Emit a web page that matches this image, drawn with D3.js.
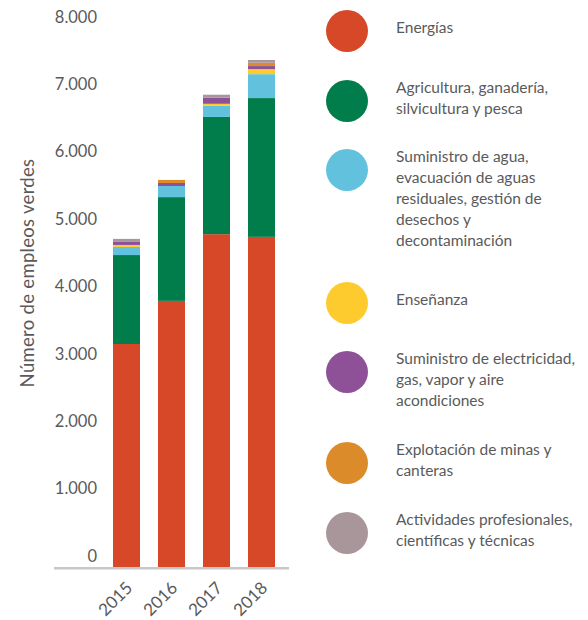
<!DOCTYPE html>
<html>
<head>
<meta charset="utf-8">
<script src="https://cdn.jsdelivr.net/npm/d3@7"></script>
<style>
  body { margin: 0; background: #fff; }
  text { font-family: Lato, "Noto Sans", sans-serif; fill: #5a5a5a; }
</style>
</head>
<body>
<svg id="chart" width="588" height="620"></svg>
<script>
// Data
const years = ['2015', '2016', '2017', '2018'];
const sectors = ['energias', 'agricultura', 'agua', 'ensenanza', 'electricidad', 'minas', 'actividades'];
const energias     = [3310, 3950, 4940, 4900];
const agricultura  = [1320, 1540, 1740, 2060];
const agua         = [120, 165, 165, 355];
const ensenanza    = [30, 0, 30, 75];
const electricidad = [45, 45, 90, 45];
const minas        = [0, 45, 0, 50];
const actividades  = [45, 0, 45, 40];
const yTicks = [0, 1000, 2000, 3000, 4000, 5000, 6000, 7000, 8000];

const legendLabels = [
    ['Energías'],
    ['Agricultura, ganadería,', 'silvicultura y pesca'],
    ['Suministro de agua,', 'evacuación de aguas', 'residuales, gestión de', 'desechos y', 'decontaminación'],
    ['Enseñanza'],
    ['Suministro de electricidad,', 'gas, vapor y aire', 'acondiciones'],
    ['Explotación de minas y', 'canteras'],
    ['Actividades profesionales,', 'científicas y técnicas']
];

const colors = {
    energias: '#d64827',
    agricultura: '#007d4b',
    agua: '#62c2de',
    ensenanza: '#fecb2f',
    electricidad: '#8e5198',
    minas: '#dc8b2a',
    actividades: '#a8969a'
};

const series = { energias, agricultura, agua, ensenanza, electricidad, minas, actividades };
const rows = years.map((y, i) => {
    const r = { year: y };
    sectors.forEach(k => { r[k] = series[k][i]; });
    return r;
});

const svg = d3.select('#chart');

const x = d3.scaleBand().domain(years).range([104, 284]).paddingInner(0.4).paddingOuter(0.2);
const y = d3.scaleLinear().domain([0, 8000]).range([567, 28]);

const locale = d3.formatLocale({ decimal: ',', thousands: '.', grouping: [3], currency: ['$', ''] });
const fmt = locale.format(',d');

// bars
const stacked = d3.stack().keys(sectors)(rows);
svg.append('g')
    .selectAll('g')
    .data(stacked)
    .join('g')
    .attr('fill', d => colors[d.key])
    .selectAll('rect')
    .data(d => d)
    .join('rect')
    .attr('x', d => x(d.data.year))
    .attr('width', x.bandwidth())
    .attr('y', d => y(d[1]))
    .attr('height', d => y(d[0]) - y(d[1]));

// y axis (labels only)
const yAxis = svg.append('g')
    .attr('transform', 'translate(97,0)')
    .call(d3.axisLeft(y).tickValues(yTicks).tickFormat(fmt).tickSize(0).tickPadding(0));
yAxis.select('.domain').remove();
yAxis.selectAll('text')
    .attr('font-size', 16.5)
    .attr('font-family', null)
    .attr('fill', null)
    .attr('dy', '-0.35em');

// baseline
svg.append('line')
    .attr('x1', 54).attr('x2', 289)
    .attr('y1', y(0) + 1.2).attr('y2', y(0) + 1.2)
    .attr('stroke', '#c8c8c8')
    .attr('stroke-width', 2.5);

// x axis labels
const xAxis = svg.append('g')
    .attr('transform', `translate(0,${y(0)})`)
    .call(d3.axisBottom(x).tickSize(0).tickPadding(0));
xAxis.select('.domain').remove();
xAxis.selectAll('text')
    .attr('font-size', 17)
    .attr('font-family', null)
    .attr('fill', null)
    .attr('text-anchor', 'end')
    .attr('dy', null)
    .attr('y', 0)
    .attr('transform', 'translate(7,22) rotate(-45)');

// y title
svg.append('text')
    .attr('transform', 'translate(34,273) rotate(-90)')
    .attr('text-anchor', 'middle')
    .attr('font-size', 18.5)
    .attr('letter-spacing', 0.3)
    .text('Número de empleos verdes');

// legend
const legendY = [31, 101, 170, 303, 372, 463, 533];
const legend = svg.append('g')
    .selectAll('g')
    .data(sectors)
    .join('g')
    .attr('transform', (d, i) => `translate(0,${legendY[i]})`);

legend.append('circle')
    .attr('cx', 347)
    .attr('r', 21)
    .attr('fill', d => colors[d]);

legend.append('text')
    .attr('font-size', 15.5)
    .attr('y', (d, i) => legendLabels[i].length > 1 ? -8 : 2)
    .selectAll('tspan')
    .data((d, i) => legendLabels[i])
    .join('tspan')
    .attr('x', 396)
    .attr('dy', (d, j) => j === 0 ? '0' : 21)
    .text(d => d);
</script>
</body>
</html>
